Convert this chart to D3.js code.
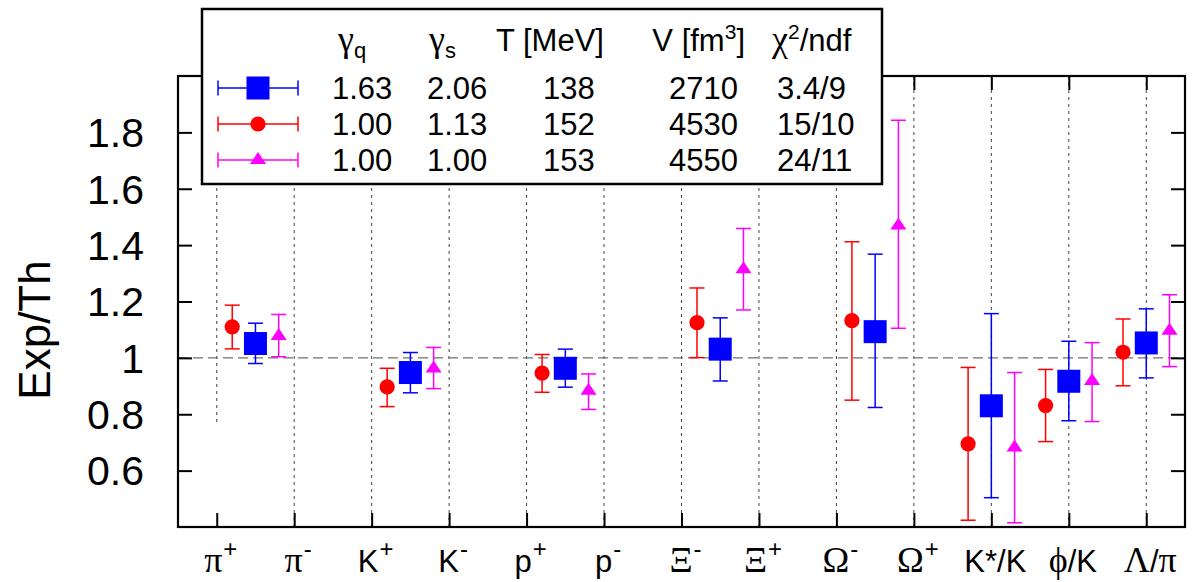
<!DOCTYPE html>
<html>
<head>
<meta charset="utf-8">
<script src="https://cdn.jsdelivr.net/npm/d3@7"></script>
<style>
  html, body { margin: 0; padding: 0; background: #fff; }
  svg { display: block; }
</style>
</head>
<body>
<svg id="chart" width="1192" height="582"></svg>
<script>
// ---------------- DATA ----------------
const catBase = ["π","π","K","K","p","p","Ξ","Ξ","Ω","Ω","K","ϕ","Λ"];
const catSup  = ["+","-","+","-","+","-","-","+","-","+","","",""];
const catTail = ["","","","","","","","","","","*/K","/K","/π"];
// lower end of each vertical dotted guide line
const gridLow = [0.76,0.4,0.4,0.4,0.4,0.4,0.4,0.4,0.4,0.4,0.4,0.4,0.4];

// group positions (category index units)
const groupPos = [0.5, 2.5, 4.5, 6.5, 8.5, 10, 11, 12];

// Series 1: gamma_q = 1.63 (blue squares)
const blueVal = [1.051, 0.948, 0.963, 1.031, 1.093, 0.830, 0.917, 1.053];
const blueLo  = [0.980, 0.876, 0.896, 0.918, 0.824, 0.504, 0.777, 0.929];
const blueHi  = [1.123, 1.019, 1.031, 1.142, 1.368, 1.157, 1.059, 1.174];
// Series 2: gamma_q = 1.00, gamma_s = 1.13 (red circles)
const redVal = [1.110, 0.897, 0.946, 1.125, 1.132, 0.695, 0.831, 1.020];
const redLo  = [1.032, 0.827, 0.878, 1.001, 0.850, 0.424, 0.703, 0.901];
const redHi  = [1.187, 0.963, 1.012, 1.248, 1.412, 0.966, 0.959, 1.138];
// Series 3: gamma_q = 1.00, gamma_s = 1.00 (magenta triangles)
const magVal = [1.078, 0.962, 0.883, 1.314, 1.470, 0.682, 0.918, 1.096];
const magLo  = [1.004, 0.891, 0.817, 1.170, 1.105, 0.415, 0.774, 0.969];
const magHi  = [1.154, 1.037, 0.943, 1.459, 1.843, 0.948, 1.054, 1.224];

const yTickVals = [0.6, 0.8, 1.0, 1.2, 1.4, 1.6, 1.8];

// legend table
const legGq  = ["1.63","1.00","1.00"];
const legGs  = ["2.06","1.13","1.00"];
const legT   = ["138","152","153"];
const legV   = ["2710","4530","4550"];
const legChi = ["3.4/9","15/10","24/11"];

// ---------------- SETUP ----------------
const SANS = "'Liberation Sans', Arial, Helvetica, sans-serif";
const SERIF = "'Liberation Serif', 'DejaVu Serif', serif";
const svg = d3.select("#chart");
const x = d3.scaleLinear().domain([-0.5, 12.5]).range([178, 1185]);
const y = d3.scaleLinear().domain([0.4, 2.0]).range([527, 76]);

const series = [
  {name:"red",  color:"#ff0000", off:-0.3, val:redVal,  lo:redLo,  hi:redHi,  shape:"circle"},
  {name:"blue", color:"#0000ff", off: 0.0, val:blueVal, lo:blueLo, hi:blueHi, shape:"square"},
  {name:"mag",  color:"#ff00ff", off: 0.3, val:magVal,  lo:magLo,  hi:magHi,  shape:"triangle"}
];

// ---------------- GRID ----------------
svg.append("g").selectAll("line").data(catBase).join("line")
  .attr("x1",(d,i)=>x(i)).attr("x2",(d,i)=>x(i))
  .attr("y1",y(2.0)).attr("y2",(d,i)=>y(gridLow[i]))
  .attr("stroke","#444").attr("stroke-width",1).attr("stroke-dasharray","3,4");

svg.append("line")
  .attr("x1",x(-0.5)).attr("x2",x(12.5)).attr("y1",y(1)).attr("y2",y(1))
  .attr("stroke","#707070").attr("stroke-width",1.3).attr("stroke-dasharray","10,5");

// ---------------- AXES ----------------
function styleAxis(g){
  g.select(".domain").remove();
  g.selectAll(".tick line").attr("stroke","#000").attr("stroke-width",2);
}
svg.append("g").attr("transform","translate(178,0)")
  .call(d3.axisLeft(y).tickValues(yTickVals).tickSize(-14).tickPadding(34)
        .tickFormat(v => Math.abs(v-1)<1e-9 ? "1" : v.toFixed(1)))
  .call(styleAxis)
  .call(g=>g.selectAll("text").attr("font-family",SANS).attr("font-size",41)
        .attr("fill","#000").attr("dy","0.35em"));
svg.append("g").attr("transform","translate(1185,0)")
  .call(d3.axisRight(y).tickValues(yTickVals).tickSize(-14).tickFormat(""))
  .call(styleAxis);
svg.append("g").attr("transform","translate(0,527)")
  .call(d3.axisBottom(x).tickValues(d3.range(13)).tickSize(-14).tickFormat(""))
  .call(styleAxis);
svg.append("g").attr("transform","translate(0,76)")
  .call(d3.axisTop(x).tickValues(d3.range(13)).tickSize(-14).tickFormat(""))
  .call(styleAxis);

svg.append("rect").attr("x",x(-0.5)).attr("y",y(2.0))
  .attr("width",x(12.5)-x(-0.5)).attr("height",y(0.4)-y(2.0))
  .attr("fill","none").attr("stroke","#000").attr("stroke-width",2.2);

// x labels
const isGreek = c => /[\u0370-\u03FF]/.test(c);
const xl = svg.append("g");
catBase.forEach((b,i)=>{
  const t = xl.append("text").attr("x", x(i)+4).attr("y",572)
    .attr("text-anchor","middle").attr("font-size",31).attr("fill","#000");
  t.append("tspan").text(b).attr("font-family", isGreek(b)?SERIF:SANS)
    .attr("font-size", isGreek(b)?36:31);
  if (catSup[i]) {
    t.append("tspan").text(catSup[i]).attr("font-family",SANS)
      .attr("font-size",24).attr("dy",-15).attr("dx",1);
  }
  const tail = catTail[i];
  for (let k=0;k<tail.length;k++){
    const c = tail[k];
    const ts = t.append("tspan").text(c).attr("font-family", isGreek(c)?SERIF:SANS)
      .attr("font-size", isGreek(c)?36:31);
    if (k===0 && catSup[i]) ts.attr("dy",15);
  }
});

// y label
svg.append("text").attr("transform","translate(50,330) rotate(-90)")
  .attr("text-anchor","middle").attr("font-family",SANS).attr("font-size",44)
  .attr("fill","#000").text("Exp/Th");

// ---------------- DATA MARKS ----------------
const CAP = 7.5;
function marker(g, shape, cx, cy, color){
  if (shape==="square"){
    g.append("rect").attr("x",cx-11.5).attr("y",cy-11.5).attr("width",23).attr("height",23)
      .attr("fill",color);
  } else if (shape==="circle"){
    g.append("circle").attr("cx",cx).attr("cy",cy).attr("r",7.6).attr("fill",color);
  } else {
    const h=12, w=8;
    g.append("path").attr("d",`M${cx},${cy-2*h/3}L${cx+w},${cy+h/3}L${cx-w},${cy+h/3}Z`)
      .attr("fill",color);
  }
}
series.forEach(s=>{
  const g = svg.append("g");
  groupPos.forEach((p,i)=>{
    const cx = x(p+s.off);
    g.append("line").attr("x1",cx).attr("x2",cx).attr("y1",y(s.lo[i])).attr("y2",y(s.hi[i]))
      .attr("stroke",s.color).attr("stroke-width",1.5);
    [s.lo[i], s.hi[i]].forEach(v=>{
      g.append("line").attr("x1",cx-CAP).attr("x2",cx+CAP).attr("y1",y(v)).attr("y2",y(v))
        .attr("stroke",s.color).attr("stroke-width",1.5);
    });
    marker(g, s.shape, cx, y(s.val[i]), s.color);
  });
});

// ---------------- LEGEND ----------------
const lg = svg.append("g");
lg.append("rect").attr("x",202).attr("y",9).attr("width",680).attr("height",175)
  .attr("fill","#fff").attr("stroke","#000").attr("stroke-width",2.5);

const legOrder = [series[1], series[0], series[2]];
const rowY = [88, 124, 160];
legOrder.forEach((s,r)=>{
  const yy = rowY[r];
  lg.append("line").attr("x1",218).attr("x2",298).attr("y1",yy).attr("y2",yy)
    .attr("stroke",s.color).attr("stroke-width",1.5);
  [218,298].forEach(xx=>lg.append("line").attr("x1",xx).attr("x2",xx)
    .attr("y1",yy-CAP).attr("y2",yy+CAP).attr("stroke",s.color).attr("stroke-width",1.5));
  marker(lg, s.shape, 258, yy, s.color);
});

function ltext(xx, yy, anchor){
  return lg.append("text").attr("x",xx).attr("y",yy).attr("text-anchor",anchor||"start")
    .attr("font-family",SANS).attr("font-size",31).attr("fill","#000");
}
// headers
const hy = 51;
let t = ltext(338, hy);
t.append("tspan").text("γ").attr("font-family",SERIF).attr("font-size",36);
t.append("tspan").text("q").attr("font-size",22).attr("dy",7);
t = ltext(429, hy);
t.append("tspan").text("γ").attr("font-family",SERIF).attr("font-size",36);
t.append("tspan").text("s").attr("font-size",22).attr("dy",7);
ltext(496, hy).text("T [MeV]");
t = ltext(745, hy, "end");
t.append("tspan").text("V [fm");
t.append("tspan").text("3").attr("font-size",21).attr("dy",-12);
t.append("tspan").text("]").attr("dy",12);
t = ltext(772, hy);
t.append("tspan").text("χ").attr("font-family",SERIF).attr("font-size",36);
t.append("tspan").text("2").attr("font-size",21).attr("dy",-12);
t.append("tspan").text("/ndf").attr("dy",12);

rowY.forEach((yy,r)=>{
  const by = yy + 11;
  ltext(332, by).text(legGq[r]);
  ltext(427, by).text(legGs[r]);
  ltext(543, by).text(legT[r]);
  ltext(738, by, "end").text(legV[r]);
  ltext(777, by).text(legChi[r]);
});
</script>
</body>
</html>
